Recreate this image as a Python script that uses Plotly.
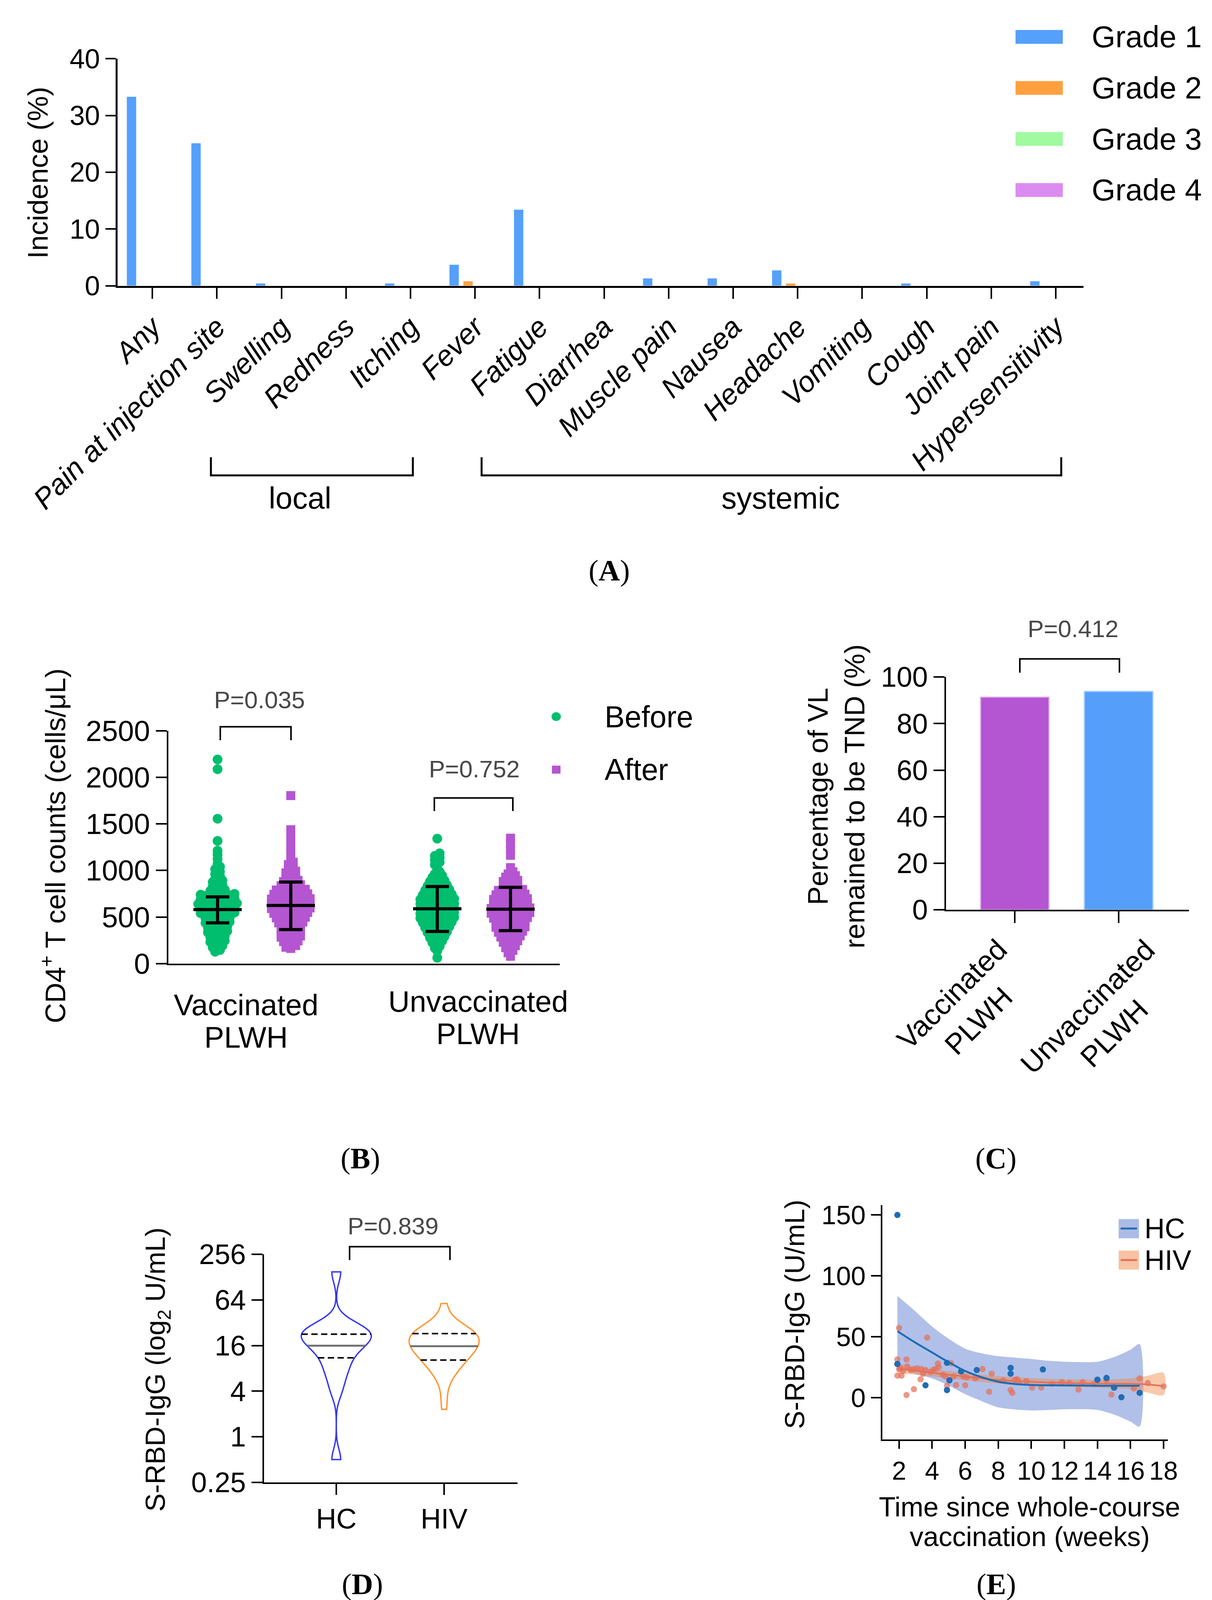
import numpy as np
import plotly.graph_objects as go

W, H = 3103, 4447
# the photographed page shows only about the top 4140 px, so the layout
# (measured on the 4447 px reference) is squeezed vertically to fit
K = 0.93
SANS = "Liberation Sans, Arial, Helvetica, sans-serif"
SERIF = "Liberation Serif, Times New Roman, serif"

# ---------------- (A) adverse events, incidence (%)
ae_categories = ["Any", "Pain at injection site", "Swelling", "Redness", "Itching", "Fever",
                 "Fatigue", "Diarrhea", "Muscle pain", "Nausea", "Headache", "Vomiting",
                 "Cough", "Joint pain", "Hypersensitivity"]
grade_names = ["Grade 1", "Grade 2", "Grade 3", "Grade 4"]
grade1_pct = [33.3, 25.1, 0.4, 0.0, 0.4, 3.7, 13.4, 0.0, 1.3, 1.3, 2.7, 0.0, 0.4, 0.0, 0.8]
grade2_pct = [0, 0, 0, 0, 0, 0.8, 0, 0, 0, 0, 0.4, 0, 0, 0, 0]
grade3_pct = [0, 0, 0, 0, 0, 0, 0, 0, 0, 0, 0, 0, 0, 0, 0]
grade4_pct = [0, 0, 0, 0, 0, 0, 0, 0, 0, 0, 0, 0, 0, 0, 0]
grade_colors = ["#55A0FA", "#FFA040", "#A0FAA0", "#DC8CF0"]

# ---------------- (B) CD4+ T cell counts (cells/uL)
cd4_vacc_before = [128, 147, 156, 174, 193, 203, 219, 232, 247, 252,
                   266, 283, 297, 305, 312, 328, 336, 349, 351, 366,
                   373, 388, 398, 402, 414, 419, 433, 437, 449, 454,
                   459, 472, 476, 488, 493, 503, 507, 516, 520, 529,
                   533, 542, 548, 552, 558, 561, 570, 574, 583, 587,
                   596, 601, 608, 611, 620, 623, 631, 637, 640, 648,
                   654, 657, 666, 669, 678, 683, 692, 698, 702, 711,
                   714, 722, 727, 735, 741, 749, 757, 766, 781, 793,
                   806, 827, 843, 855, 876, 893, 908, 939, 961, 987,
                   1014, 1041, 1072, 1123, 1171, 1213, 1318, 1556, 2087, 2192]
cd4_vacc_after = [163, 176, 194, 208, 219, 236, 244, 255, 262, 277,
                  284, 296, 307, 315, 327, 333, 346, 356, 364, 377,
                  381, 394, 404, 415, 421, 432, 438, 447, 452, 461,
                  467, 477, 482, 491, 498, 503, 511, 514, 523, 528,
                  537, 540, 549, 551, 558, 562, 569, 573, 582, 586,
                  591, 598, 602, 607, 616, 618, 627, 632, 638, 645,
                  649, 653, 659, 664, 671, 673, 682, 687, 693, 698,
                  703, 712, 716, 724, 731, 737, 744, 749, 753, 762,
                  767, 778, 782, 791, 798, 807, 814, 828, 836, 847,
                  858, 867, 881, 894, 906, 925, 943, 957, 974, 992,
                  1011, 1037, 1063, 1089, 1132, 1198, 1262, 1331, 1392, 1438, 1804]
cd4_unvacc_before = [63, 136, 166, 187, 209, 224, 242, 256, 268, 277,
                     291, 303, 314, 321, 333, 341, 352, 362, 369, 379,
                     386, 397, 402, 411, 416, 425, 432, 439, 447, 451,
                     459, 463, 471, 476, 484, 488, 497, 503, 507, 515,
                     520, 528, 532, 538, 547, 552, 557, 565, 569, 578,
                     582, 590, 597, 602, 610, 614, 622, 626, 634, 641,
                     647, 653, 659, 664, 672, 676, 685, 689, 697, 704,
                     709, 718, 723, 731, 737, 746, 755, 761, 772, 778,
                     788, 796, 805, 816, 824, 835, 843, 858, 868, 883,
                     893, 914, 927, 946, 964, 987, 1023, 1061, 1089, 1113,
                     1138, 1157, 1184, 1342]
cd4_unvacc_after = [79, 117, 142, 158, 171, 192, 203, 218, 229, 246,
                    254, 263, 277, 286, 298, 302, 312, 319, 331, 337,
                    348, 351, 361, 366, 375, 381, 390, 396, 404, 409,
                    418, 423, 432, 437, 447, 451, 457, 465, 469, 477,
                    482, 488, 495, 502, 506, 513, 517, 525, 529, 536,
                    541, 548, 553, 556, 564, 568, 576, 579, 587, 592,
                    598, 604, 608, 616, 620, 628, 633, 641, 645, 652,
                    659, 664, 672, 677, 685, 689, 697, 703, 711, 716,
                    725, 730, 739, 746, 753, 763, 770, 780, 786, 796,
                    809, 820, 834, 847, 857, 866, 882, 894, 911, 929,
                    944, 962, 986, 1031, 1163, 1228, 1294, 1347]
# median and IQR bars, order: vacc before, vacc after, unvacc before, unvacc after
cd4_median = [581, 625, 589, 585]
cd4_q1 = [438, 366, 346, 354]
cd4_q3 = [717, 876, 828, 820]
cd4_groups = ["Vaccinated", "Unvaccinated"]
cd4_pvalues = ["P=0.035", "P=0.752"]

# ---------------- (C) viral load remained TND
vl_groups = ["Vaccinated<br>PLWH", "Unvaccinated<br>PLWH"]
vl_tnd_pct = [91.4, 93.8]
vl_pvalue = "P=0.412"

# ---------------- (D, E) S-RBD-IgG (U/mL) vs weeks since whole-course vaccination
hc_weeks = [1.9, 1.9, 3.6, 4.9, 5.05, 4.9, 5.75, 6.7, 8.75, 8.75, 10.7, 14.0, 14.55, 15.45, 16.55, 15.0]
hc_igg = [150, 27.8, 10.3, 28.7, 14.4, 6.4, 21.7, 22.8, 24.6, 19.8, 23.3, 14.9, 16.3, 0.5, 4.1, 8.4]
hiv_weeks = [2.0, 3.7, 1.9, 2.45, 1.9, 2.15, 2.0, 2.1, 2.25, 2.5, 2.7, 2.9, 3.1, 3.35, 3.6,
             3.9, 4.05, 4.2, 4.35, 4.4, 2.45, 2.9, 3.3, 3.45, 4.65, 4.8, 4.9, 5.15, 5.3, 5.45,
             5.9, 6.0, 6.1, 6.6, 7.05, 7.45, 7.6, 8.3, 8.75, 8.85, 9.0, 9.15, 9.25, 9.7, 10.05,
             10.6, 11.25, 11.85, 12.3, 12.85, 13.1, 13.8, 14.55, 14.85, 15.05, 16.2, 16.55, 17.05, 18.0]
hiv_igg = [57.3, 49.4, 31.5, 31.5, 18.2, 18.2, 23.6, 24.3, 22.0, 25.8, 22.8, 23.6, 24.3, 23.6, 22.8,
           21.3, 22.8, 23.6, 28.1, 25.1, 2.3, 7.1, 15.2, 19.8, 19.0, 17.5, 9.9, 28.4, 17.5, 10.6,
           17.5, 10.3, 16.7, 16.0, 23.6, 5.0, 19.8, 14.4, 6.4, 4.1, 14.7, 15.2, 12.9, 13.7, 8.4,
           8.4, 11.4, 12.9, 12.2, 6.8, 12.9, 11.4, 14.4, 2.7, 8.4, 7.6, 16.0, 12.2, 9.4]
igg_groups = ["HC", "HIV"]
igg_q1 = [11.0, 10.3]
igg_median = [15.9, 15.7]
igg_q3 = [22.6, 23.0]
igg_pvalue = "P=0.839"

# smoothed trend with confidence band
hc_fit_x = [1.9, 2.9, 4, 5, 6, 7, 8, 9, 10, 11, 12, 13, 14, 15, 16, 16.55]
hc_fit = [54.7, 46.0, 37.2, 29.3, 22.0, 16.9, 13.2, 11.4, 10.6, 10.3, 10.2, 10.1, 9.9, 9.9, 9.9, 9.9]
hc_hi = [83.6, 72.0, 58.5, 48.5, 40.3, 36.5, 34.2, 33.0, 31.9, 30.5, 29.6, 29.3, 29.6, 33.4, 39.5, 44.1]
hc_lo = [25.8, 20.0, 15.9, 10.1, 3.0, -2.7, -7.8, -9.5, -10.3, -10.0, -9.4, -9.3, -9.9, -13.7, -19.5, -23.6]
hiv_fit_x = [1.9, 3, 4, 5, 6, 7, 8, 9, 10, 11, 12, 13, 14, 15, 16, 17, 18]
hiv_fit = [24.0, 22.2, 20.5, 19.0, 17.5, 16.0, 14.7, 13.8, 13.2, 12.6, 12.2, 11.9, 11.7, 11.6, 11.6, 11.0, 9.6]
hiv_hi = [28.0, 25.5, 23.5, 22.0, 20.5, 19.0, 17.8, 17.0, 16.2, 15.6, 15.2, 15.0, 15.0, 15.3, 16.0, 18.0, 20.5]
hiv_lo = [20.0, 19.0, 17.5, 16.0, 14.5, 13.0, 11.6, 10.6, 10.2, 9.6, 9.2, 8.8, 8.4, 7.9, 7.2, 4.5, 2.3]

GREEN = "#00BE6E"
PURPLE = "#B455D2"
BLUE_C = "#559FFA"
HC_BLUE = "#1F6DB5"
HIV_RED = "#E4705A"


def fx(x):
    return x / W


def fy(y):
    return 1 - y * K / H


def dom_x(x0, x1):
    return [fx(x0), fx(x1)]


def dom_y(y_top, y_bot):
    return [fy(y_bot), fy(y_top)]


def base_axis(**kw):
    ax = dict(showline=True, linecolor="black", linewidth=4, ticks="outside",
              tickcolor="black", tickwidth=4, ticklen=26, showgrid=False,
              zeroline=False, fixedrange=True, type="linear", automargin=False,
              tickfont=dict(family=SANS, size=70, color="black"))
    ax.update(kw)
    return ax


annotations = []
shapes = []


def text(x, y, s, size=72, color="black", angle=0, family=SANS, xanchor="center"):
    annotations.append(dict(x=fx(x), y=fy(y), xref="paper", yref="paper", text=s,
                            showarrow=False, textangle=angle, xanchor=xanchor, yanchor="middle",
                            font=dict(family=family, size=size, color=color)))


def bracket(x0, x1, y_bar, y_end, width=4):
    path = (f"M {fx(x0)},{fy(y_end)} L {fx(x0)},{fy(y_bar)} "
            f"L {fx(x1)},{fy(y_bar)} L {fx(x1)},{fy(y_end)}")
    shapes.append(dict(type="path", xref="paper", yref="paper", path=path,
                       line=dict(color="black", width=width)))


def box(x0, y0, x1, y1, color, kind="rect"):
    shapes.append(dict(type=kind, xref="paper", yref="paper",
                       x0=fx(x0), x1=fx(x1), y0=fy(y1), y1=fy(y0),
                       fillcolor=color, line=dict(width=0)))


def swarm_offsets(values, row_h=50.0, dx=0.066):
    # Prism-like rows: points in each value band spread out from the centre
    vals = np.asarray(values, dtype=float)
    offs = np.zeros(len(vals))
    rows = np.floor(vals / row_h).astype(int)
    for r in np.unique(rows):
        idx = np.where(rows == r)[0]
        idx = idx[np.argsort(vals[idx])]
        k = len(idx)
        slots = (np.arange(k) - (k - 1) / 2) * dx
        slots = slots[np.argsort(np.abs(slots), kind="stable")]
        offs[idx] = slots
    return offs


def kde(samples, grid, bw):
    z = (np.asarray(grid)[:, None] - np.asarray(samples)[None, :]) / bw
    return np.exp(-0.5 * z ** 2).sum(axis=1)


fig = go.Figure()

# ================= panel A
grades = [grade1_pct, grade2_pct, grade3_pct, grade4_pct]
for name, vals, col in zip(grade_names, grades, grade_colors):
    fig.add_trace(go.Bar(x=list(range(len(ae_categories))), y=vals, name=name,
                         marker=dict(color=col, line=dict(width=0)),
                         xaxis="x", yaxis="y"))

# legend drawn by hand (Prism layout)
for i, (name, col) in enumerate(zip(grade_names, grade_colors)):
    yc = 93 + i * 140.5
    box(2592, yc - 19, 2713, yc + 19, col)
    text(2785, yc, name, size=78, xanchor="left")

bracket(532, 1049, 1300, 1250, width=5)
bracket(1225, 2709, 1300, 1250, width=5)
text(760, 1362, "local", size=78)
text(1990, 1362, "systemic", size=78)
text(89, 467, "Incidence (%)", size=72, angle=-90)
text(1552, 1562, "(<b>A</b>)", size=76, family=SERIF)

# ================= panel B
b_series = [(cd4_vacc_before, 0, GREEN, "circle", 25),
            (cd4_vacc_after, 1, PURPLE, "square", 23),
            (cd4_unvacc_before, 3, GREEN, "circle", 25),
            (cd4_unvacc_after, 4, PURPLE, "square", 23)]
for vals, pos, col, sym, size in b_series:
    fig.add_trace(go.Scatter(x=pos + swarm_offsets(vals), y=vals, mode="markers",
                             marker=dict(color=col, symbol=sym, size=size, line=dict(width=0)),
                             cliponaxis=False, xaxis="x2", yaxis="y2"))

for (vals, pos, col, sym, size), med, lo, hi in zip(b_series, cd4_median, cd4_q1, cd4_q3):
    xs = [pos - 0.33, pos + 0.33, None, pos, pos, None,
          pos - 0.16, pos + 0.16, None, pos - 0.16, pos + 0.16]
    ys = [med, med, None, lo, hi, None, lo, lo, None, hi, hi]
    fig.add_trace(go.Scatter(x=xs, y=ys, mode="lines", line=dict(color="black", width=8),
                             cliponaxis=False, xaxis="x2", yaxis="y2"))

bracket(556, 737, 1992, 2029)
bracket(1104, 1305, 2188, 2224)
text(656, 1918, cd4_pvalues[0], size=62, color="#484848")
text(1206, 2108, cd4_pvalues[1], size=62, color="#484848")
box(1404, 1952, 1428, 1976, GREEN, kind="circle")
box(1405, 2099, 1427, 2121, PURPLE)
text(1538, 1964, "Before", size=77, xanchor="left")
text(1538, 2110, "After", size=77, xanchor="left")
text(622, 2758, cd4_groups[0], size=76)
text(622, 2847, "PLWH", size=76)
text(1216, 2748, cd4_groups[1], size=76)
text(1216, 2837, "PLWH", size=76)
text(128, 2320, "CD4<sup>+</sup> T cell counts (cells/\u03bcL)", size=72, angle=-90)
text(914, 3180, "(<b>B</b>)", size=76, family=SERIF)

# ================= panel C
fig.add_trace(go.Bar(x=[0, 1], y=vl_tnd_pct, width=0.66,
                     marker=dict(color=[PURPLE, BLUE_C],
                                 line=dict(color=["#E2B6F0", "#A9CDFD"], width=3)),
                     xaxis="x3", yaxis="y3"))
bracket(2603, 2858, 1805, 1843)
text(2739, 1722, vl_pvalue, size=62, color="#484848")
text(2086, 2184, "Percentage of VL", size=72, angle=-90)
text(2180, 2184, "remained to be TND (%)", size=72, angle=-90)
text(2463, 2765, vl_groups[0], size=74, angle=-45)
text(2810, 2799, vl_groups[1], size=74, angle=-45)
text(2542, 3180, "(<b>C</b>)", size=76, family=SERIF)

# ================= panel D
VIOLIN_W = 0.65
BW = 0.45
for i, (vals, col) in enumerate([(hc_igg, "#3535F2"), (hiv_igg, "#FF9430")]):
    logv = np.log2(vals)
    fig.add_trace(go.Violin(y=logv, x0=i, name=igg_groups[i], width=VIOLIN_W,
                            bandwidth=BW, spanmode="hard", scalemode="width",
                            points=False, box_visible=False, meanline_visible=False,
                            fillcolor="rgba(0,0,0,0)", line=dict(color=col, width=3.5),
                            xaxis="x4", yaxis="y4"))
    grid = np.linspace(logv.min(), logv.max(), 400)
    dmax = kde(logv, grid, BW).max()
    for q, dash, lcol, lw in [(igg_q3[i], "16px,9px", "black", 4),
                              (igg_median[i], "solid", "#707070", 5),
                              (igg_q1[i], "16px,9px", "black", 4)]:
        lq = np.log2(q)
        half = VIOLIN_W / 2 * kde(logv, [lq], BW)[0] / dmax
        fig.add_trace(go.Scatter(x=[i - half, i + half], y=[lq, lq], mode="lines",
                                 line=dict(color=lcol, width=lw, dash=dash),
                                 xaxis="x4", yaxis="y4"))

bracket(887, 1144, 3423, 3460)
text(998, 3366, igg_pvalue, size=62, color="#484848")
text(395, 3762, "S-RBD-IgG (log<sub>2</sub> U/mL)", size=70, angle=-90)
text(920, 4352, "(<b>D</b>)", size=76, family=SERIF)

# ================= panel E
fig.add_trace(go.Scatter(x=hc_fit_x + hc_fit_x[::-1], y=hc_hi + hc_lo[::-1], mode="lines",
                         fill="toself", fillcolor="rgba(70,105,200,0.42)",
                         line=dict(width=0, shape="spline", smoothing=0.8),
                         xaxis="x5", yaxis="y5"))
fig.add_trace(go.Scatter(x=hiv_fit_x + hiv_fit_x[::-1], y=hiv_hi + hiv_lo[::-1], mode="lines",
                         fill="toself", fillcolor="rgba(240,135,70,0.45)",
                         line=dict(width=0, shape="spline", smoothing=0.8),
                         xaxis="x5", yaxis="y5"))
fig.add_trace(go.Scatter(x=hiv_fit_x, y=hiv_fit, mode="lines",
                         line=dict(color=HIV_RED, width=4, shape="spline"),
                         xaxis="x5", yaxis="y5"))
fig.add_trace(go.Scatter(x=hiv_weeks, y=hiv_igg, mode="markers",
                         marker=dict(color="rgba(228,112,90,0.72)", size=16, line=dict(width=0)),
                         cliponaxis=False, xaxis="x5", yaxis="y5"))
fig.add_trace(go.Scatter(x=hc_weeks, y=hc_igg, mode="markers",
                         marker=dict(color=HC_BLUE, size=16, line=dict(width=0)),
                         cliponaxis=False, xaxis="x5", yaxis="y5"))
fig.add_trace(go.Scatter(x=hc_fit_x, y=hc_fit, mode="lines",
                         line=dict(color=HC_BLUE, width=5, shape="spline"),
                         xaxis="x5", yaxis="y5"))

box(2856, 3347, 2908, 3400, "rgba(70,105,200,0.45)")
shapes.append(dict(type="line", xref="paper", yref="paper", x0=fx(2861), x1=fx(2903),
                   y0=fy(3373), y1=fy(3373), line=dict(color=HC_BLUE, width=5)))
box(2856, 3434, 2908, 3486, "rgba(240,135,70,0.5)")
shapes.append(dict(type="line", xref="paper", yref="paper", x0=fx(2861), x1=fx(2903),
                   y0=fy(3460), y1=fy(3460), line=dict(color=HIV_RED, width=5)))
text(2920, 3373, igg_groups[0], size=72, xanchor="left")
text(2920, 3460, igg_groups[1], size=72, xanchor="left")
text(2027, 3609, "S-RBD-IgG (U/mL)", size=70, angle=-90)
text(2628, 4140, "Time since whole-course", size=70)
text(2628, 4222, "vaccination (weeks)", size=70)
text(2542, 4352, "(<b>E</b>)", size=76, family=SERIF)

fig.update_layout(
    width=W, height=H, autosize=False,
    margin=dict(l=0, r=0, t=0, b=0, pad=0, autoexpand=False),
    paper_bgcolor="white", plot_bgcolor="white",
    showlegend=False,
    barmode="group", bargap=0.136, bargroupgap=0.33,
    violinmode="overlay",
    font=dict(family=SANS, color="black"),
    # A
    xaxis=base_axis(domain=dom_x(293, 2766), anchor="y", range=[-0.54, 14.43],
                    tickvals=list(range(len(ae_categories))), ticktext=ae_categories,
                    tickangle=-45, ticklen=28, linewidth=5,
                    tickfont=dict(family=SANS, size=74, color="black", style="italic")),
    yaxis=base_axis(domain=dom_y(153, 778), anchor="x", range=[0, 40],
                    tickvals=[0, 10, 20, 30, 40], linewidth=5),
    # B
    xaxis2=base_axis(domain=dom_x(423, 1425), anchor="y2", range=[-0.672, 4.672],
                     ticks="", showticklabels=False),
    yaxis2=base_axis(domain=dom_y(2003, 2644), anchor="x2", range=[0, 2500],
                     tickvals=[0, 500, 1000, 1500, 2000, 2500], ticklen=28,
                     tickfont=dict(family=SANS, size=74, color="black")),
    # C
    xaxis3=base_axis(domain=dom_x(2414, 3036), anchor="y3", range=[-0.662, 1.677],
                     tickvals=[0, 1], showticklabels=False, ticklen=30),
    yaxis3=base_axis(domain=dom_y(1855, 2496), anchor="x3", range=[0, 100],
                     tickvals=[0, 20, 40, 60, 80, 100], ticklen=28,
                     tickfont=dict(family=SANS, size=72, color="black")),
    # D
    xaxis4=base_axis(domain=dom_x(668, 1317), anchor="y4", range=[-0.670, 1.681],
                     tickvals=[0, 1], ticktext=igg_groups, ticklen=28,
                     tickfont=dict(family=SANS, size=72, color="black")),
    yaxis4=base_axis(domain=dom_y(3444, 4072), anchor="x4", range=[-2, 8],
                     tickvals=[-2, 0, 2, 4, 6, 8],
                     ticktext=["0.25", "1", "4", "16", "64", "256"], ticklen=28,
                     tickfont=dict(family=SANS, size=72, color="black")),
    # E
    xaxis5=base_axis(domain=dom_x(2251, 2982), anchor="y5", range=[0.99, 18.26],
                     tickvals=[2, 4, 6, 8, 10, 12, 14, 16, 18], ticklen=20,
                     tickfont=dict(family=SANS, size=66, color="black")),
    yaxis5=base_axis(domain=dom_y(3309, 3954), anchor="x5", range=[-34.2, 158],
                     tickvals=[0, 50, 100, 150], ticklen=25,
                     tickfont=dict(family=SANS, size=68, color="black")),
    annotations=annotations,
    shapes=shapes,
)

fig.write_html("out.html")
